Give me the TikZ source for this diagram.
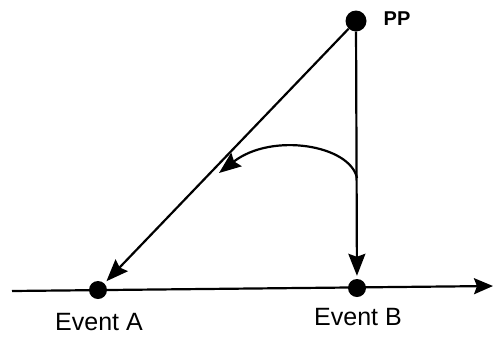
\documentclass[tikz,border=0pt]{standalone}
\usepackage{fontspec}
\setmainfont{Liberation Sans}
\usetikzlibrary{arrows.meta}
\begin{document}
\begin{tikzpicture}[x=1pt,y=-1pt,
  dot/.style={circle,fill=black,inner sep=0pt,minimum size=#1},
  ln/.style={line width=2.2pt},
  arr/.style={ln,-{Stealth[length=22pt,width=17pt,inset=3pt]}},
  lbl/.style={font=\fontsize{25}{28}\selectfont,inner sep=0pt}]
\useasboundingbox (0,0) rectangle (493,338);
\node[dot=21pt] (PP) at (356,21) {};
\node[dot=18pt] (A) at (98,290) {};
\node[dot=18pt] (B) at (357,288) {};
\coordinate (L) at (12,291);
\coordinate (R) at (493,286);
\coordinate (cs) at (357,178);
\coordinate (ce) at (219,173);
\node[lbl,font=\fontsize{20}{24}\selectfont\bfseries] (pplabel) at (397,19) {PP};
\node[lbl] (la) at (99,322) {Event A};
\node[lbl] (lb) at (358,317) {Event B};
\draw[ln,-{Stealth[length=19pt,width=16pt,inset=3pt]}] (L) -- (R);
\draw[arr,shorten >=3pt] (PP) -- (A);
\draw[arr,shorten >=3pt] (PP) -- (B);
\draw[arr] (cs) .. controls (350,145) and (272,132) .. (ce);
\end{tikzpicture}
\end{document}
